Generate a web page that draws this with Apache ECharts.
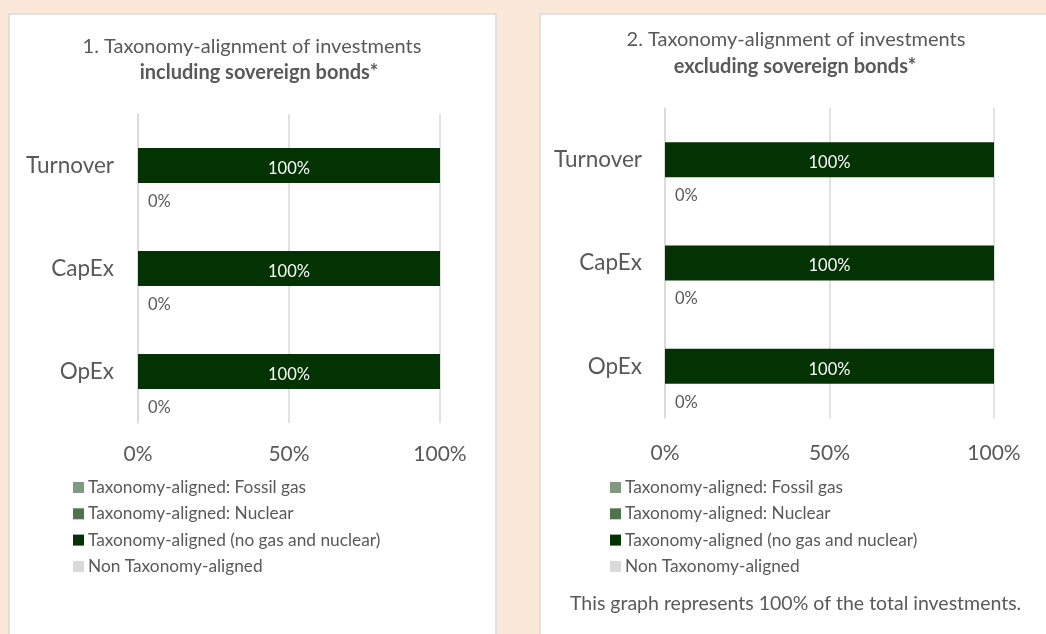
<!DOCTYPE html>
<html>
<head>
<meta charset="utf-8">
<title>Taxonomy-alignment</title>
<script src="https://cdn.jsdelivr.net/npm/echarts@6/dist/echarts.min.js"></script>
<style>
  html, body { margin: 0; padding: 0; background: #FAE8D8; }
  #chart { width: 1046px; height: 634px; }
</style>
</head>
<body>
<div id="chart"></div>
<script>
// categories and tick labels
const categories = ['Turnover', 'CapEx', 'OpEx']
const xTicks = [0, 50, 100]
const legendNames = [
  'Taxonomy-aligned: Fossil gas',
  'Taxonomy-aligned: Nuclear',
  'Taxonomy-aligned (no gas and nuclear)',
  'Non Taxonomy-aligned'
]

// 1. including sovereign bonds
const gasIncl = [0, 0, 0]
const nuclearIncl = [0, 0, 0]
const alignedIncl = [100, 100, 100]
const nonAlignedIncl = [0, 0, 0]

// 2. excluding sovereign bonds
const gasExcl = [0, 0, 0]
const nuclearExcl = [0, 0, 0]
const alignedExcl = [100, 100, 100]
const nonAlignedExcl = [0, 0, 0]

const FONT = 'Lato'
const TEXT = '#595959'
const LINE = '#D9D9D9'
const colors = ['#7F9A7F', '#4E744E', '#033302', '#D9D9D9']

function xAxisFor(gridIndex, margin) {
  return {
    type: 'value',
    gridIndex: gridIndex,
    min: xTicks[0],
    max: xTicks[xTicks.length - 1],
    interval: xTicks[1] - xTicks[0],
    axisLine: { show: false },
    axisTick: { show: false },
    splitLine: { lineStyle: { color: LINE, width: 1.5 } },
    axisLabel: {
      color: TEXT,
      fontFamily: FONT,
      fontSize: 21,
      margin: margin,
      formatter: '{value}%'
    }
  }
}

function yAxisFor(gridIndex, margin) {
  return {
    type: 'category',
    gridIndex: gridIndex,
    inverse: true,
    data: categories,
    axisLine: { lineStyle: { color: LINE, width: 1.5 } },
    axisTick: { length: 8, lineStyle: { color: LINE, width: 1.5 } },
    axisLabel: { color: TEXT, fontFamily: FONT, fontSize: 22.5, margin: margin }
  }
}

function seriesFor(idx, stackName, gas, nuclear, aligned, nonAligned) {
  // non-aligned goes first in the stack so its "0%" label sits at the axis start
  return [
    {
      name: legendNames[3],
      type: 'bar',
      xAxisIndex: idx,
      yAxisIndex: idx,
      stack: stackName,
      barWidth: 35,
      data: nonAligned,
      itemStyle: { color: colors[3] },
      label: {
        show: true,
        position: 'right',
        distance: 10,
        offset: [0, 36],
        color: TEXT,
        fontFamily: FONT,
        fontSize: 16.5,
        formatter: '{c}%'
      }
    },
    {
      name: legendNames[0],
      type: 'bar',
      xAxisIndex: idx,
      yAxisIndex: idx,
      stack: stackName,
      barWidth: 35,
      data: gas,
      itemStyle: { color: colors[0] }
    },
    {
      name: legendNames[1],
      type: 'bar',
      xAxisIndex: idx,
      yAxisIndex: idx,
      stack: stackName,
      barWidth: 35,
      data: nuclear,
      itemStyle: { color: colors[1] }
    },
    {
      name: legendNames[2],
      type: 'bar',
      xAxisIndex: idx,
      yAxisIndex: idx,
      stack: stackName,
      barWidth: 35,
      data: aligned,
      itemStyle: { color: colors[2] },
      label: {
        show: true,
        position: 'inside',
        offset: [0, 3],
        color: '#FFFFFF',
        fontFamily: FONT,
        fontSize: 16.5,
        formatter: '{c}%'
      }
    }
  ]
}

function legendFor(left) {
  return {
    data: legendNames,
    orient: 'vertical',
    left: left,
    top: 479,
    padding: 0,
    icon: 'rect',
    itemWidth: 11,
    itemHeight: 11,
    itemGap: 9.3,
    selectedMode: false,
    textStyle: { color: TEXT, fontFamily: FONT, fontSize: 17.3, lineHeight: 16, padding: [0, 0, 0, -1] }
  }
}

function titleText(x, y, text, bold) {
  return {
    type: 'text',
    x: x,
    y: y,
    style: {
      text: text,
      fill: TEXT,
      font: (bold ? 'bold ' : '') + '20px ' + FONT,
      textAlign: 'center',
      textVerticalAlign: 'middle'
    }
  }
}

const chart = echarts.init(document.getElementById('chart'))
chart.setOption({
  backgroundColor: '#FAE8D8',
  animation: false,
  graphic: [
    {
      type: 'rect',
      z: -10,
      shape: { x: 9, y: 14, width: 487, height: 640 },
      style: { fill: '#FFFFFF', stroke: LINE, lineWidth: 1.5 }
    },
    {
      type: 'rect',
      z: -10,
      shape: { x: 540, y: 14, width: 520, height: 640 },
      style: { fill: '#FFFFFF', stroke: LINE, lineWidth: 1.5 }
    },
    titleText(252, 47, '1. Taxonomy-alignment of investments', false),
    titleText(259, 73, 'including sovereign bonds*', true),
    titleText(796, 40, '2. Taxonomy-alignment of investments', false),
    titleText(795, 67, 'excluding sovereign bonds*', true),
    {
      type: 'text',
      x: 570,
      y: 604,
      style: {
        text: 'This graph represents 100% of the total investments.',
        fill: TEXT,
        font: '19.5px ' + FONT,
        textVerticalAlign: 'middle'
      }
    }
  ],
  legend: [legendFor(73), legendFor(610)],
  grid: [
    { left: 138, top: 114, width: 302, height: 309 },
    { left: 665, top: 108, width: 329, height: 310 }
  ],
  xAxis: [xAxisFor(0, 21), xAxisFor(1, 25)],
  yAxis: [yAxisFor(0, 24), yAxisFor(1, 23)],
  series: [].concat(
    seriesFor(0, 'incl', gasIncl, nuclearIncl, alignedIncl, nonAlignedIncl),
    seriesFor(1, 'excl', gasExcl, nuclearExcl, alignedExcl, nonAlignedExcl)
  )
})
</script>
</body>
</html>
